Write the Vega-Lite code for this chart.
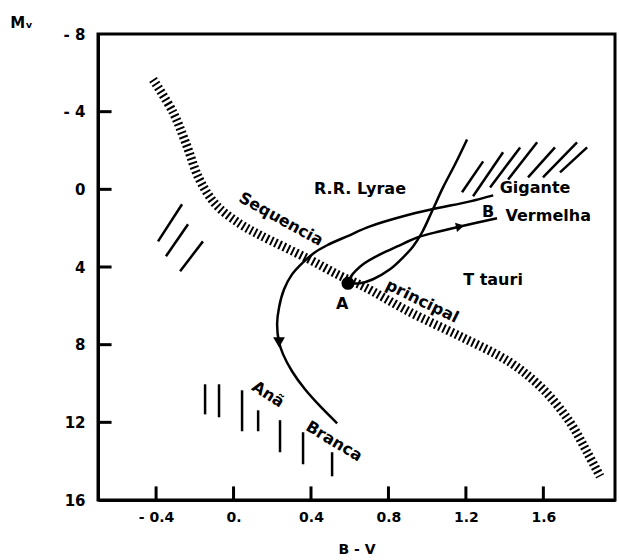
{
  "$schema": "https://vega.github.io/schema/vega-lite/v6.json",
  "width": 517,
  "height": 466,
  "autosize": "none",
  "padding": {"left": 98, "top": 34, "right": 4, "bottom": 60},
  "background": "white",
  "config": {
    "view": {"stroke": "black", "strokeWidth": 3},
    "font": "DejaVu Sans",
    "text": {"font": "DejaVu Sans", "fontWeight": "bold", "fontSize": 16, "color": "black"}
  },
  "datasets": {
    "ms": [
      {"x": -0.416, "y": -5.66}, {"x": -0.312, "y": -3.96}, {"x": -0.24, "y": -2.21},
      {"x": -0.178, "y": -0.55}, {"x": -0.09, "y": 0.8}, {"x": 0.034, "y": 1.78},
      {"x": 0.137, "y": 2.36}, {"x": 0.38, "y": 3.55}, {"x": 0.55, "y": 4.45},
      {"x": 0.669, "y": 4.99}, {"x": 0.912, "y": 6.33}, {"x": 1.17, "y": 7.57},
      {"x": 1.428, "y": 8.91}, {"x": 1.599, "y": 10.3}, {"x": 1.738, "y": 12.0},
      {"x": 1.826, "y": 13.54}, {"x": 1.893, "y": 14.78}
    ],
    "tracks": [
      {"s": "loop", "x": 0.535, "y": 12.05}, {"s": "loop", "x": 0.447, "y": 11.17},
      {"s": "loop", "x": 0.369, "y": 10.3}, {"s": "loop", "x": 0.302, "y": 9.37},
      {"s": "loop", "x": 0.256, "y": 8.5}, {"s": "loop", "x": 0.235, "y": 7.88},
      {"s": "loop", "x": 0.225, "y": 6.95}, {"s": "loop", "x": 0.235, "y": 6.08},
      {"s": "loop", "x": 0.261, "y": 5.15}, {"s": "loop", "x": 0.302, "y": 4.38},
      {"s": "loop", "x": 0.359, "y": 3.76}, {"s": "loop", "x": 0.421, "y": 3.24},
      {"s": "loop", "x": 0.483, "y": 2.88}, {"s": "loop", "x": 0.586, "y": 2.42},
      {"s": "loop", "x": 0.705, "y": 1.91}, {"s": "loop", "x": 0.876, "y": 1.39},
      {"s": "loop", "x": 1.025, "y": 1.03}, {"s": "loop", "x": 1.222, "y": 0.62},
      {"s": "loop", "x": 1.341, "y": 0.31},
      {"s": "steep", "x": 1.206, "y": -2.57}, {"s": "steep", "x": 1.144, "y": -1.29},
      {"s": "steep", "x": 1.082, "y": -0.1}, {"s": "steep", "x": 1.025, "y": 1.13},
      {"s": "steep", "x": 0.974, "y": 2.21}, {"s": "steep", "x": 0.927, "y": 2.94},
      {"s": "steep", "x": 0.876, "y": 3.5}, {"s": "steep", "x": 0.808, "y": 4.12},
      {"s": "steep", "x": 0.72, "y": 4.63}, {"s": "steep", "x": 0.653, "y": 4.84},
      {"s": "steep", "x": 0.591, "y": 4.84},
      {"s": "arrow", "x": 0.591, "y": 4.84}, {"s": "arrow", "x": 0.607, "y": 4.48},
      {"s": "arrow", "x": 0.669, "y": 3.86}, {"s": "arrow", "x": 0.757, "y": 3.35},
      {"s": "arrow", "x": 0.845, "y": 2.94}, {"s": "arrow", "x": 0.953, "y": 2.47},
      {"s": "arrow", "x": 1.067, "y": 2.16}, {"s": "arrow", "x": 1.17, "y": 1.91},
      {"s": "arrow", "x": 1.361, "y": 1.49}
    ],
    "segs": [
      {"x": 1.289, "y": -1.44, "x2": 1.18, "y2": 0.15},
      {"x": 1.392, "y": -1.91, "x2": 1.237, "y2": 0.36},
      {"x": 1.48, "y": -2.16, "x2": 1.325, "y2": -0.1},
      {"x": 1.568, "y": -2.42, "x2": 1.418, "y2": -0.51},
      {"x": 1.66, "y": -2.16, "x2": 1.521, "y2": -0.62},
      {"x": 1.774, "y": -2.42, "x2": 1.598, "y2": -0.62},
      {"x": 1.826, "y": -2.16, "x2": 1.686, "y2": -0.87},
      {"x": -0.266, "y": 0.77, "x2": -0.39, "y2": 2.68},
      {"x": -0.235, "y": 1.8, "x2": -0.349, "y2": 3.45},
      {"x": -0.158, "y": 2.68, "x2": -0.276, "y2": 4.22},
      {"x": -0.147, "y": 10.04, "x2": -0.147, "y2": 11.59},
      {"x": -0.075, "y": 10.04, "x2": -0.075, "y2": 11.74},
      {"x": 0.044, "y": 10.35, "x2": 0.044, "y2": 12.46},
      {"x": 0.127, "y": 11.38, "x2": 0.127, "y2": 12.46},
      {"x": 0.24, "y": 11.89, "x2": 0.24, "y2": 13.54},
      {"x": 0.359, "y": 12.51, "x2": 0.359, "y2": 14.16},
      {"x": 0.509, "y": 13.54, "x2": 0.509, "y2": 14.78}
    ],
    "tk": [
      {"x": -0.4, "y": 16.0, "x2": -0.4, "y2": 15.3},
      {"x": 0.0, "y": 16.0, "x2": 0.0, "y2": 15.3},
      {"x": 0.4, "y": 16.0, "x2": 0.4, "y2": 15.3},
      {"x": 0.8, "y": 16.0, "x2": 0.8, "y2": 15.3},
      {"x": 1.2, "y": 16.0, "x2": 1.2, "y2": 15.3},
      {"x": 1.6, "y": 16.0, "x2": 1.6, "y2": 15.3},
      {"x": -0.7, "y": -4.0, "x2": -0.63, "y2": -4.0},
      {"x": -0.7, "y": 0.0, "x2": -0.63, "y2": 0.0},
      {"x": -0.7, "y": 4.0, "x2": -0.63, "y2": 4.0},
      {"x": -0.7, "y": 8.0, "x2": -0.63, "y2": 8.0},
      {"x": -0.7, "y": 12.0, "x2": -0.63, "y2": 12.0}
    ],
    "pts": [
      {"kind": "A", "x": 0.591, "y": 4.84},
      {"kind": "loopdot", "x": 0.235, "y": 7.88},
      {"kind": "head", "x": 1.17, "y": 1.91}
    ],
    "labels": [
      {"label": "Sequencia", "x": 0.245, "y": 1.54},
      {"label": "principal", "x": 0.974, "y": 5.77},
      {"label": "R.R. Lyrae", "x": 0.653, "y": 0.0},
      {"label": "Gigante", "x": 1.557, "y": -0.05},
      {"label": "B", "x": 1.315, "y": 1.18},
      {"label": "Vermelha", "x": 1.625, "y": 1.39},
      {"label": "T tauri", "x": 1.34, "y": 4.69},
      {"label": "A", "x": 0.561, "y": 5.92},
      {"label": "Anã", "x": 0.178, "y": 10.56},
      {"label": "Branca", "x": 0.519, "y": 12.98}
    ]
  },
  "encoding": {
    "x": {
      "field": "x", "type": "quantitative",
      "scale": {"domain": [-0.7, 1.97], "nice": false, "zero": false},
      "axis": {
        "title": "B - V",
        "values": [-0.4, 0, 0.4, 0.8, 1.2, 1.6],
        "labelExpr": "datum.value == 0 ? '0.' : (datum.value < 0 ? '- ' + format(abs(datum.value), '.1f') : format(datum.value, '.1f'))",
        "grid": false, "ticks": false,
        "domainColor": "black", "domainWidth": 3,
        "labelColor": "black", "labelFont": "DejaVu Sans", "labelFontWeight": "bold", "labelFontSize": 14,
        "labelPadding": 10,
        "titleColor": "black", "titleFont": "DejaVu Sans", "titleFontWeight": "bold", "titleFontSize": 14,
        "titlePadding": 18
      }
    },
    "y": {
      "field": "y", "type": "quantitative",
      "scale": {"domain": [-8, 16], "reverse": true, "nice": false, "zero": false},
      "axis": {
        "title": "Mᵥ",
        "values": [-8, -4, 0, 4, 8, 12, 16],
        "labelExpr": "datum.value < 0 ? '- ' + abs(datum.value) : '' + datum.value",
        "grid": false, "ticks": false,
        "domainColor": "black", "domainWidth": 3,
        "labelColor": "black", "labelFont": "DejaVu Sans", "labelFontWeight": "bold", "labelFontSize": 15,
        "labelPadding": 13,
        "titleColor": "black", "titleFont": "DejaVu Sans", "titleFontWeight": "bold", "titleFontSize": 15,
        "titleAngle": 0, "titleAlign": "center", "titleBaseline": "middle",
        "titleX": -77, "titleY": -12
      }
    }
  },
  "layer": [
    {
      "data": {"name": "ms"},
      "mark": {"type": "line", "color": "black", "strokeWidth": 9, "strokeDash": [2, 2.6], "interpolate": "catmull-rom"},
      "encoding": {"order": {"value": null}}
    },
    {
      "data": {"name": "tracks"},
      "mark": {"type": "line", "color": "black", "strokeWidth": 2.5, "interpolate": "catmull-rom"},
      "encoding": {"detail": {"field": "s"}, "order": {"value": null}}
    },
    {
      "data": {"name": "segs"},
      "mark": {"type": "rule", "color": "black", "strokeWidth": 2.5},
      "encoding": {"x2": {"field": "x2"}, "y2": {"field": "y2"}}
    },
    {
      "data": {"name": "tk"},
      "mark": {"type": "rule", "color": "black", "strokeWidth": 3},
      "encoding": {
        "x": {"field": "x", "type": "quantitative"},
        "y": {"field": "y", "type": "quantitative"},
        "x2": {"field": "x2"},
        "y2": {"field": "y2"}
      }
    },
    {
      "data": {"name": "pts"},
      "transform": [{"filter": "datum.kind == 'A'"}],
      "mark": {"type": "point", "shape": "circle", "filled": true, "color": "black", "opacity": 1, "size": 170}
    },
    {
      "data": {"name": "pts"},
      "transform": [{"filter": "datum.kind == 'loopdot'"}],
      "mark": {"type": "point", "shape": "triangle-down", "filled": true, "color": "black", "opacity": 1, "size": 140}
    },
    {
      "data": {"name": "pts"},
      "transform": [{"filter": "datum.kind == 'head'"}],
      "mark": {"type": "point", "shape": "triangle-right", "angle": -12, "filled": true, "color": "black", "opacity": 1, "size": 90}
    },
    {
      "data": {"name": "labels"},
      "transform": [{"filter": "datum.label == 'Sequencia'"}],
      "mark": {"type": "text", "angle": 29},
      "encoding": {"text": {"field": "label"}}
    },
    {
      "data": {"name": "labels"},
      "transform": [{"filter": "datum.label == 'principal'"}],
      "mark": {"type": "text", "angle": 26},
      "encoding": {"text": {"field": "label"}}
    },
    {
      "data": {"name": "labels"},
      "transform": [{"filter": "datum.label == 'Anã'"}],
      "mark": {"type": "text", "angle": 33},
      "encoding": {"text": {"field": "label"}}
    },
    {
      "data": {"name": "labels"},
      "transform": [{"filter": "datum.label == 'Branca'"}],
      "mark": {"type": "text", "angle": 31},
      "encoding": {"text": {"field": "label"}}
    },
    {
      "data": {"name": "labels"},
      "transform": [{"filter": "indexof(['Sequencia','principal','Anã','Branca'], datum.label) < 0"}],
      "mark": {"type": "text"},
      "encoding": {"text": {"field": "label"}}
    }
  ]
}
